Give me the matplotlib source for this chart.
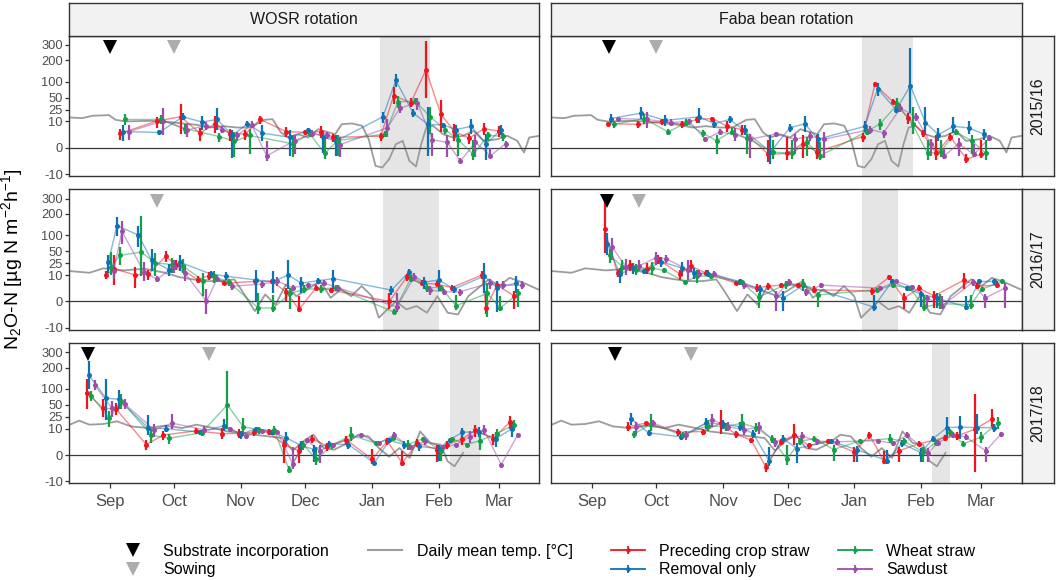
import numpy as np
import matplotlib.pyplot as plt
from matplotlib.lines import Line2D

plt.rcParams['font.family'] = ['Liberation Sans', 'DejaVu Sans']
plt.rcParams['mathtext.fontset'] = 'custom'
plt.rcParams['mathtext.rm'] = 'Liberation Sans'
plt.rcParams['mathtext.it'] = 'Liberation Sans:italic'

# x axis: days since 1 September of each season
month_days = [0, 30, 61, 91, 122, 153, 181]
month_labels = ['Sep', 'Oct', 'Nov', 'Dec', 'Jan', 'Feb', 'Mar']
y_ticks = [-10, 0, 10, 25, 50, 100, 200, 300]

seasons = ['2015/16', '2016/17', '2017/18']
rotations = ['WOSR rotation', 'Faba bean rotation']
treatments = ['Preceding crop straw', 'Removal only', 'Wheat straw', 'Sawdust']
colors = ['#F0141E', '#0C72B4', '#14A049', '#9C4DAA']

# daily mean temperature [°C]
temp_1516_day = [-18.6, -12.8, -8.1, -0.3, 2.8, 7.5, 18.5, 24.8, 34.2, 40.4, 46.7, 53, 59.3, 65.5, 71.8, 75.7,
                 79.6, 82.8, 87.5, 92.2, 96.9, 104.8, 107.9, 112.6, 117.3, 120.4, 123.6, 126.7, 129.9, 133,
                 136.2, 139.3, 142.4, 144.8, 147.2, 150.3, 155, 159.7, 164.4, 169.1, 173.8, 180.1, 184.8,
                 189.5, 192.6, 195, 199.7]
temp_1516 = [14.2, 13.4, 16.3, 17.1, 11.6, 10.0, 10.6, 10.0, 8.2, 7.1, 5.2, 6.1, 5.2, 5.2, 11.6, 12.3,
             2.6, 0.96, 1.9, 0.96, 4.2, 1.9, 7.6, 8.2, 6.4, 0.6, -3.9, -4.8, -1.2, 0.07,
             0.36, -1.7, -4.2, 0.07, 5.2, 6.4, 1.9, 0.96, 1.4, 3.3, 0.36, 0.6, 1.4,
             0.36, -0.13, 0.96, 1.4]
temp_1617_day = [-18.5, -9.4, -3.0, 6.6, 16.2, 25.8, 32.3, 38.6, 45.1, 51.5, 57.9, 61.1, 67.5, 72.3, 77.1,
                 81.9, 86.7, 93.1, 97.9, 102.7, 107.5, 112.3, 117.1, 121.9, 125.1, 129.1, 133.1, 137.9,
                 142.7, 147.5, 152.3, 157.1, 161.9, 166.7, 171.5, 176.3, 181.1, 185.9, 192.3, 199.2]
temp_1617 = [14.2, 12.3, 17.6, 15.0, 17.1, 12.3, 8.2, 6.4, 5.2, 5.2, 6.4, 1.4, -0.8, 0.36, -0.05,
             3.3, 0.18, 1.94, 5.2, 0.07, 1.4, 0.18, 2.6, 0.18, -3.0, -0.5, 0.0, -0.5,
             -0.13, -1.2, 0.18, -1.2, -1.7, 0.18, 1.94, 6.4, 2.6, 7.6, 4.2, 1.4]
temp_1718_day = [-18.5, -14.2, -9.4, -3.0, 3.4, 9.8, 17.8, 25.8, 33.8, 40.3, 48.3, 54.7, 61.1, 67.5, 73.9,
                 80.3, 85.1, 89.9, 94.7, 99.5, 104.3, 109.1, 115.5, 120.3, 125.1, 129.9, 134.7, 139.5,
                 144.3, 149.1, 153.9, 157.1, 160.3, 164.3]
temp_1718 = [14.2, 19.4, 14.2, 15.0, 18.5, 12.3, 10.6, 13.1, 10.6, 14.2, 10.6, 7.6, 6.4, 5.2, 4.2,
             3.3, 0.11, 1.94, 5.2, 0.36, 0.18, 0.96, 5.2, 4.2, 0.36, -0.01, 0.36, -0.04,
             7.6, 1.4, 0.96, -0.28, -1.2, 0.02]

# substrate incorporation / sowing dates, frozen periods (days since 1 Sep)
incorporation = {('WOSR rotation', '2015/16'): 0, ('WOSR rotation', '2016/17'): None,
                 ('WOSR rotation', '2017/18'): -10, ('Faba bean rotation', '2015/16'): 8,
                 ('Faba bean rotation', '2016/17'): 7, ('Faba bean rotation', '2017/18'): 11}
sowing = {'2015/16': 30, '2016/17': 22, '2017/18': 46}
frost = {('WOSR rotation', '2015/16'): (125.5, 149), ('WOSR rotation', '2016/17'): (127, 153),
         ('WOSR rotation', '2017/18'): (158.4, 172), ('Faba bean rotation', '2015/16'): (125.7, 149.4),
         ('Faba bean rotation', '2016/17'): (125.7, 142.2), ('Faba bean rotation', '2017/18'): (158, 166.3)}

# ---- N2O-N fluxes: WOSR 2015/16
w15_pcs_day = [5, 22, 33, 42, 49, 56, 63, 70, 82, 91, 98, 104, 126, 132, 140, 147, 154, 160, 167, 174, 181]
w15_pcs = [2.2, 10.5, 15, 2.3, 8, 2, 2, 12, 3, 2.6, 3, 1, 1.3, 55, 38, 150, 18, 3.3, 0.8, 4.5, 3.2]
w15_pcs_lo = [0.5, 5, 2, 0.3, 2.5, 0.3, 0.5, 8, 1, 1.5, 0.8, 0.2, 0.3, 35, 30, 50, 3, 0.3, 0.1, 1.5, 1]
w15_pcs_hi = [4.5, 15, 35, 5, 16, 4.5, 4, 16, 5.5, 4, 6, 2, 2.5, 80, 48, 330, 45, 7.5, 2, 9, 6]
w15_rmo_day = [6, 23, 34, 43, 50, 57, 64, 71, 84, 92, 99, 105, 127, 133, 141, 148, 155, 161, 168, 175, 182]
w15_rmo = [3, 2.6, 15, 9.5, 12, 1.5, 8, 2.3, 1, 3.5, 1.2, 0.3, 15, 105, 20, 7.5, 7, 4, 6, 0.1, 4]
w15_rmo_lo = [0.3, 1.8, 11, 4, 4, -1, 6, 0.3, -0.5, 2, -0.2, -0.5, 9, 80, 15, -0.5, 5, 1, 2, -1.5, 1.5]
w15_rmo_hi = [7, 3.5, 20, 16, 28, 4, 10, 7, 3.5, 5, 3, 1.5, 22, 130, 27, 30, 9, 7, 12, 2, 7]
w15_wst_day = [7, 24, 35, 51, 58, 65, 85, 93, 100, 106, 128, 134, 142, 149, 156, 162, 169, 176, 183]
w15_wst = [12, 12, 4.5, 1.2, 0.3, 1.5, 0.1, 2, -0.2, 0.4, 2, 40, 42, 15, 4, 0.5, -0.3, 1.5, 1.3]
w15_wst_lo = [7, 8, 2, 0.2, -0.8, -0.3, -0.8, 1, -1.2, -0.5, 1, 28, 35, 2, 2, -0.5, -1.5, 0.3, 0.3]
w15_wst_hi = [18, 17, 8, 2.5, 3, 4.5, 1.5, 3.5, 0.8, 1.5, 3.2, 55, 50, 30, 6.5, 2, 0.5, 3, 2.5]
w15_sdt_day = [9, 25, 36, 45, 52, 59, 66, 73, 86, 94, 101, 107, 129, 135, 143, 150, 157, 163, 170, 177, 184]
w15_sdt = [3, 10.5, 3.8, 6.5, 4, 1.5, 7, -0.5, 0.4, 2, 1.5, 0.05, 5, 28, 38, 0.5, 0.2, -1.8, 0.2, -0.5, 0.1]
w15_sdt_lo = [0.5, 1.5, 1, 4, 2.5, 0.3, 5, -1.8, -0.3, 1, 0.6, -0.8, 1, 20, 25, -0.5, -0.8, -2.5, -0.8, -1, 0]
w15_sdt_hi = [7, 28, 8, 9.5, 6, 3, 10, 0.3, 1.5, 3.5, 2.8, 1, 12, 38, 50, 2.5, 1.5, -1, 1.5, 0, 0.3]

# ---- WOSR 2016/17
w16_pcs_day = [-1.7, 2, 12, 18, 26, 31, 41, 46, 53, 67.5, 75.5, 82, 88, 96, 103, 130, 138, 145, 152, 159, 173, 175, 180, 188]
w16_pcs = [10, 17, 10, 11, 38, 22, 6, 9.5, 4, 5, 5, 0.8, -0.5, 2, 1.2, 0, 8, 4, 3.5, 2, 10, -0.3, 3, 0.2]
w16_pcs_lo = [7, 3, 2, 6, 28, 15, 4, 6, 3, 3.5, 3.5, 0, -1, 1.2, 0.5, -0.5, 5, 2.5, 2.5, 1, 7, -1.5, 1.5, -0.5]
w16_pcs_hi = [14, 40, 20, 16, 50, 30, 9, 13, 5.5, 7, 7, 1.8, 0.2, 3, 2, 0.5, 11, 6, 5, 3, 14, 1, 5, 1]
w16_rmo_day = [-0.6, 3.4, 13.4, 19.5, 27.5, 32.6, 47, 54, 68, 76, 83, 89, 97, 104, 131, 139, 146, 153, 160, 174, 180, 189]
w16_rmo = [27, 140, 100, 30, 16, 27, 11, 9, 6, 5, 10, 4, 5.5, 7, 1.2, 13, 4.5, 6, 1.5, 9, 2, 4]
w16_rmo_lo = [12, 95, 60, 14, 9, 14, 8, 6, 0, 0.5, 1.5, 0.5, 3.5, 1.5, 0.3, 9, 1.5, 1, 0.5, 0.5, -1, 0.5]
w16_rmo_hi = [42, 185, 140, 55, 24, 40, 14, 13, 15, 14, 30, 8, 7.5, 16, 2.5, 17, 8, 15, 2.5, 25, 5, 9]
w16_wst_day = [0.5, 4.7, 14.6, 21, 29, 34, 43.5, 48.6, 55.5, 69, 76, 84, 90.5, 98, 105, 132, 140, 147.5, 154, 161, 175.5, 181.5, 190]
w16_wst = [20, 40, 48, 26, 23, 21, 5.5, 8.7, 4.5, -0.3, -0.3, 0.5, 1.5, 1.5, 2, -1, 7, 2, 2, -0.1, 0.5, -0.3, 0.5]
w16_wst_lo = [10, 22, 9, 9, 12, 12, 0.2, 4, 2.5, -1.5, -1, -0.5, 0.5, 0.5, 1, -1.5, 4.5, 0.8, 1, -0.6, -2.5, -0.8, -0.2]
w16_wst_hi = [48, 62, 190, 45, 35, 32, 12, 14, 7, 0.5, 0.3, 2, 3, 3, 3, -0.5, 10, 3.5, 3, 0.3, 4, 0.2, 1.5]
w16_sdt_day = [1.8, 5.7, 16, 22, 30, 35, 45, 50, 57, 70.7, 78, 85, 92, 99.5, 106, 133.5, 141.5, 149, 155.5, 162.7, 176.7, 183, 191.5]
w16_sdt = [14, 115, 13, 6.5, 20, 12, 0, 7, 2.5, 3.5, 5, 2, 3, 4, 2, -0.2, 8, 1.2, 0.8, 0.8, 4, 3, 3]
w16_sdt_lo = [7, 70, 5, 4.5, 12, 5, -1.5, 4.5, 1.2, 2, 2.5, 1, 2, 2.5, 1, -1, 5, 0.3, 0.3, 0.2, 1.5, 1.5, 1.5]
w16_sdt_hi = [25, 160, 28, 9, 30, 22, 1.5, 10, 4, 5, 8, 3, 4, 6, 3, 0.5, 12, 2.5, 1.5, 1.5, 7, 5, 5]

# ---- WOSR 2017/18
w17_pcs_day = [-10.7, -3, 3, 17, 25, 40, 52, 60, 67, 74, 81, 88, 94, 101, 110, 122, 129, 136, 143, 152, 157, 164, 170, 178, 186]
w17_pcs = [85, 42, 40, 1, 5, 8, 6, 6, 7, 7, 1, 0.1, 3, 0.7, 2.5, -0.1, 2, -0.5, 1.5, 0.2, 1, 3, 8.5, 3, 17]
w17_pcs_lo = [40, 25, 28, 0.2, 2.5, 5.5, 3, 3.5, 4.5, 5, -0.5, -0.5, 1.5, 0.1, 1, -0.6, 1, -1.2, 0.5, -0.3, 0.3, 1, 4, 1, 10]
w17_pcs_hi = [140, 65, 55, 2.5, 8, 11, 11, 10, 10, 10, 2.5, 0.8, 5, 1.5, 4.5, 0.3, 3.5, 0.1, 3, 0.8, 2, 6, 14, 6, 26]
w17_rmo_day = [-9.7, -1.7, 4.2, 18, 26, 42, 53, 61, 68, 75.5, 82, 89, 95, 102, 111, 123, 130, 137, 144, 153, 158, 164, 171.5, 179.5, 187]
w17_rmo = [160, 68, 65, 10.5, 10, 7, 13, 5.5, 10, 7, 3.5, 0.8, 0.2, 1.2, 1, -0.5, 2.3, 1, 0.6, 0.3, 2.5, 7, 7, 3, 10]
w17_rmo_lo = [100, 20, 40, 5, 7, 5, 8, 3, 8, 5, 1, 0.1, -0.3, 0.5, 0.3, -0.8, 1.5, 0.3, 0.1, -0.2, 1.5, 3.5, 4, 0.5, 4]
w17_rmo_hi = [240, 140, 95, 28, 14, 9, 22, 8, 12, 9, 7, 2, 1, 2, 2, -0.2, 3.5, 2, 1.5, 1, 3.5, 11, 12, 7, 18]
w17_wst_day = [-8.6, -0.2, 5.3, 19.4, 27.4, 42.7, 54.7, 62, 69.4, 76.6, 83.5, 90, 96, 103.5, 112, 124, 131.5, 138.5, 145.6, 154, 159, 166, 172, 180, 188]
w17_wst = [75, 23, 60, 5, 3.2, 6.5, 50, 12, 9, 8.5, -2.5, 1, -0.1, 0.8, 5, 1.3, 3.5, 1, 3, 0.1, 3, 1, 2.2, 6, 14]
w17_wst_lo = [60, 12, 40, 1.5, 1.2, 4.5, 10, 5, 6, 5, -4, 0.2, -0.8, 0.3, 2, 0.8, 2.5, 0.2, 2.5, -0.2, 2, 0.5, 0.2, 3.5, 9]
w17_wst_hi = [90, 35, 80, 10, 5.5, 9, 180, 24, 12, 13, -1.2, 2, 0.5, 1.5, 12, 2, 4.5, 2.5, 4, 0.5, 4, 1.5, 6, 10, 20]
w17_sdt_day = [-7, 1, 7, 20.7, 29, 44, 56, 63.5, 70.7, 78, 85, 91.5, 97.6, 104, 117, 125, 132, 139.5, 146.7, 155, 161, 167.5, 174, 182, 189.6]
w17_sdt = [115, 42, 52, 9, 16, 9, 10, 4.3, 8, 7, -0.6, 2.5, 0.1, 1, 5, 1.3, 5, 0.5, 2, 0.5, 1, 4, 9, -0.8, 5]
w17_sdt_lo = [95, 25, 40, 4, 10, 6, 8, 3, 6.5, 5.5, -2, 1.5, -0.5, 0.5, 4, 0.8, 3.5, 0.2, 1, 0.1, 0.5, 1.5, 5, -1, 4]
w17_sdt_hi = [135, 60, 65, 15, 30, 13, 12, 6, 10, 9, 0.5, 3.5, 0.8, 1.5, 6.5, 2, 7, 1, 3, 1, 1.5, 8, 14, -0.5, 6.5]

# ---- Faba bean 2015/16
f15_pcs_day = [7.7, 21.7, 32.7, 41.8, 48.8, 56, 63, 69.8, 82, 90.7, 98, 104.7, 125.8, 131.5, 140, 147, 153.7, 160, 166.5, 174, 180.7]
f15_pcs = [8, 7.5, 10, 7.5, 12, 13, 6, 4, -0.3, -0.2, 0.1, -0.1, 1.2, 90, 40, 14, 2.2, -0.2, 1.2, -1.2, -0.3]
f15_pcs_lo = [6.5, 5, 7, 5, 9, 11, 3, 1.5, -2, -1.5, -1, -1.2, 0.2, 80, 35, 8, 1, -1.5, 0.3, -2.5, -1]
f15_pcs_hi = [9.5, 10, 13, 10, 15, 15, 10, 7, 0.5, 1, 1.5, 1.5, 2.5, 100, 46, 20, 4, 1.5, 2.5, -0.3, 0.5]
f15_rmo_day = [9, 23, 34, 50, 57, 64, 71, 83, 92, 99, 105, 126.8, 132.8, 141.4, 148, 155, 161, 168, 175, 182]
f15_rmo = [13, 20, 11, 15, 8, 12, 3.5, -0.1, 5, 8, 0.6, 6, 75, 25, 85, 9, 1.8, 6, 5, 2]
f15_rmo_lo = [9, 12, 6, 9, 5, 9, 1.5, -3, 3, 3, -0.5, 3, 55, 20, 20, 2, 0.3, 2.5, 2, 0.5]
f15_rmo_hi = [18, 30, 17, 28, 11, 16, 7, 1.5, 8, 16, 2, 10, 95, 32, 280, 30, 5, 15, 10, 4.5]
f15_wst_day = [10.4, 24.5, 35.5, 44, 51.5, 58, 65, 72, 84, 93, 100, 106, 127.8, 134, 142, 149, 156, 162, 169, 176.4, 183]
f15_wst = [7.5, 13, 2.8, 9, 2.2, 0.4, 3, 0.8, -0.1, -0.2, 0.2, -0.5, 3, 8, 35, 7.5, -0.2, -0.1, 2.8, 0.4, -0.2]
f15_wst_lo = [5, 8, 1.5, 6, 1, -0.3, 1.5, -0.3, -1.2, -1.2, -0.5, -1.5, 1.5, 4, 25, 2, -1.5, -0.8, 1.5, -0.3, -1.5]
f15_wst_hi = [10, 18, 4.5, 13, 4, 1.5, 5, 2, 0.5, 0.5, 1, 0.2, 5, 12, 48, 30, 0.5, 0.5, 4.5, 1.5, 0.5]
f15_sdt_day = [12, 25.8, 36.7, 45.4, 52.8, 59.5, 66.6, 73.4, 85.4, 94.3, 101.4, 107.7, 129.3, 135.6, 143.4, 150.5, 157.6, 163.4, 170.5, 177.5, 184.6]
f15_sdt = [13, 12, 9, 10, 0.6, 2.8, 1.8, 0.6, 2, 0.6, 1.3, 0.6, 4, 2.5, 28, 15, 0.1, -0.6, 0.1, -0.3, 0.8]
f15_sdt_lo = [10, 5, 6, 7, 0.2, 1.5, 0.3, -1, 1, -0.3, 0.3, -1, 2, 0.8, 22, 10, -0.5, -1.2, -0.5, -0.8, 0.3]
f15_sdt_hi = [15, 22, 12, 13, 1.2, 4.5, 5, 2, 3, 2, 3, 3, 6, 4, 35, 20, 0.6, 0, 0.8, 0.1, 1.5]

# ---- Faba bean 2016/17
f16_pcs_day = [6, 12, 18, 25.8, 30.9, 41, 46, 53, 67, 76.7, 82, 87.8, 96, 103.4, 130, 138, 145, 152, 159, 173, 179, 188]
f16_pcs = [125, 12, 22, 17, 32, 11, 21, 12, 4, 2, 2.5, 3, 3, 1.3, 1, 8, 0.05, 1.8, 0.2, 6, 2.5, 3]
f16_pcs_lo = [45, 8, 14, 11, 24, 6, 13, 9, 3, 0.8, 1.2, 2, 2, 0.5, 0.3, 6, -0.5, 1, -0.3, 1.5, 1.5, 2]
f16_pcs_hi = [300, 16, 30, 25, 40, 16, 30, 16, 5, 3.5, 4, 4, 4, 2.5, 2, 10, 0.5, 3, 1, 12, 4, 5]
f16_rmo_day = [7.3, 13, 19.4, 24.5, 32, 42, 47.5, 54, 68.7, 78, 89, 98.3, 131, 139.5, 146.5, 153, 160.4, 174, 180, 187]
f16_rmo = [70, 11, 18, 14, 28, 18, 12, 11.5, 5, 1.5, 0.05, 3, -0.2, 5, 1.7, 0.4, 0.05, -0.2, 5, 5]
f16_rmo_lo = [40, 4, 11, 11, 20, 9, 7, 8, 3, 0.2, -0.8, 1, -0.8, 3.5, 1, -0.2, -0.3, -0.6, 3.5, 3]
f16_rmo_hi = [110, 18, 26, 17, 36, 28, 18, 15, 7, 3, 1, 5.5, 0.3, 6.5, 2.5, 1, 0.5, 0.2, 7, 7]
f16_wst_day = [8.4, 14.3, 20.6, 28, 33.6, 43.4, 48.7, 55.5, 69.7, 77.5, 90.4, 98.3, 105, 132.7, 140, 147.7, 154.5, 161.7, 176, 181.4, 190.6]
f16_wst = [40, 20, 16, 18, 15, 4.5, 9, 9, 4.5, 0.1, 3.5, 3.5, 0.3, 1.3, 3, 1.8, -0.2, -0.02, -0.05, 1.5, 5]
f16_wst_lo = [25, 11, 10, 10, 12, 3.5, 4, 7, 3, -0.3, 1.5, 1.5, -0.2, 0.8, 2, 1, -0.8, -0.5, -0.4, 0.8, 3.5]
f16_wst_hi = [55, 30, 24, 28, 18, 5.5, 15, 11, 6, 0.5, 5.5, 6.5, 0.8, 2, 4, 2.5, 0.3, 0.4, 0.3, 2.2, 6.5]
f16_sdt_day = [9.6, 15.8, 21.9, 29.8, 34.7, 44.5, 50, 57, 70.8, 85.6, 91.4, 99.7, 106.7, 134, 141.5, 148.7, 155.8, 162.8, 177, 182.6, 191.8]
f16_sdt = [60, 20, 21, 35, 33, 16, 11.5, 11, 3, 0.2, 4.5, 0.8, 3, 1.8, 5, 2.2, 0.05, -0.1, 4.5, 0.05, 1.8]
f16_sdt_lo = [30, 10, 14, 22, 26, 6, 8, 8, 1.5, -0.8, 2.5, 0.2, 2, 1.2, 4, 1.5, -0.3, -0.5, 2.5, -0.3, -0.3]
f16_sdt_hi = [90, 32, 30, 48, 40, 30, 15, 14, 4.5, 1, 7, 1.5, 4, 2.5, 6, 3, 0.3, 0.2, 7, 0.4, 4]

# ---- Faba bean 2017/18
f17_pcs_day = [16.9, 25, 40, 51.8, 59.9, 67, 74, 81, 87.8, 94, 100.7, 109.6, 122, 129, 135.6, 142.6, 152, 164, 169.8, 178, 186]
f17_pcs = [12, 16, 7, 7.5, 16, 5.5, 2.5, -1.5, 1.8, 5, 0.8, 2, 0.05, 5, -0.2, 0.1, 1.2, 3.5, 4.5, 9.5, 22]
f17_pcs_lo = [8, 14, 4.5, 5, 6, 3.5, 1.5, -3.5, 0.8, 1, 0.3, 1.2, -0.3, 3, -0.6, -0.3, 0.6, 2, 2.5, -3.5, 12]
f17_pcs_hi = [18, 18, 10, 10, 38, 8, 3.5, -0.5, 3, 15, 1.5, 3, 0.5, 7, 0.1, 0.5, 2, 5, 7, 80, 40]
f17_rmo_day = [18.4, 26.4, 41.3, 53, 61.2, 68.7, 75, 82.3, 89, 95.3, 111, 123, 137, 144, 153, 158.4, 165, 171, 178.8, 187]
f17_rmo = [22, 6.5, 4, 16, 15, 12, 6, -0.2, 3, 0.3, 2, 0.2, -0.2, 1.3, 0.02, 3, 11, 11.5, 11, 11]
f17_rmo_lo = [14, 4.5, 2.5, 10, 10, 8, 3.5, -1, 1.5, -0.5, 1.2, -0.3, -0.6, 0.5, -0.3, 2, 3.5, 3, 6, 7]
f17_rmo_hi = [32, 9, 6, 24, 20, 18, 9, 0.5, 5, 1.5, 3, 0.6, 0.2, 2.5, 0.4, 4.5, 25, 26, 30, 15]
f17_wst_day = [19.5, 27.5, 42.2, 54, 62.3, 69.6, 76.4, 83.7, 90.7, 96.7, 103.4, 112.4, 124.8, 138.4, 145, 154, 159.7, 166.3, 172.6, 180.6, 188.6]
f17_wst = [5.5, 15, 5, 13, 12, 16, 11, 3, -0.1, 2, 3, 0.2, 2.2, 3, 2, 0.05, 1.5, 7, 1.2, 3.7, 16]
f17_wst_lo = [3.5, 8, 3.5, 8, 8, 9, 7, 1.5, -0.8, 1, 2, -0.2, 1.5, 1.5, 1, -0.3, 0.8, 4.5, 0.6, 1.5, 10]
f17_wst_hi = [8, 30, 7, 20, 16, 30, 16, 5, 0.8, 3.5, 4.5, 0.8, 3, 6, 3.5, 0.5, 2.5, 10, 2.2, 7, 25]
f17_sdt_day = [20.8, 28.6, 43.6, 55.8, 63.5, 70.8, 77.5, 85, 97.6, 104.6, 114, 132.8, 140, 146.5, 156.3, 160.8, 167.7, 173.6, 183, 190]
f17_sdt = [11.5, 16, 5, 21, 12, 9, 11.5, 1.8, 4.5, 2, 1.8, 2.2, 1.3, 5, 0.02, 1.5, 5, 4, 0.1, 5.5]
f17_sdt_lo = [6, 12, 2.5, 12, 8, 5, 6, 0.5, 2, 1, 0.8, 1.5, 0.6, 3.5, -0.3, 0.8, 3.5, 2.5, -0.3, 4]
f17_sdt_hi = [18, 20, 8, 30, 18, 14, 18, 3.5, 7, 3, 3, 3, 2, 7, 0.4, 2.5, 7, 6, 0.5, 7]

temps = {'2015/16': (temp_1516_day, temp_1516), '2016/17': (temp_1617_day, temp_1617),
         '2017/18': (temp_1718_day, temp_1718)}
g = globals()
prefix = {('WOSR rotation', '2015/16'): 'w15', ('WOSR rotation', '2016/17'): 'w16',
          ('WOSR rotation', '2017/18'): 'w17', ('Faba bean rotation', '2015/16'): 'f15',
          ('Faba bean rotation', '2016/17'): 'f16', ('Faba bean rotation', '2017/18'): 'f17'}
codes = ['pcs', 'rmo', 'wst', 'sdt']


def fwd(y):
    y = np.asarray(y, dtype=float)
    return np.sign(y) * np.abs(y) ** 0.4


def inv(u):
    u = np.asarray(u, dtype=float)
    return np.sign(u) * np.abs(u) ** 2.5


W, H = 1059, 580
fig = plt.figure(figsize=(W / 100, H / 100), dpi=100)


def px_axes(x0, y0, x1, y1):
    return fig.add_axes([x0 / W, 1 - y1 / H, (x1 - x0) / W, (y1 - y0) / H])


col_x = [(69, 539.3), (551, 1021.7)]
row_y = [(35.7, 176.2), (189.3, 329.8), (342.9, 483.4)]
edge = '#333333'

for c, rot in enumerate(rotations):
    for r, season in enumerate(seasons):
        key = (rot, season)
        ax = px_axes(col_x[c][0], row_y[r][0], col_x[c][1], row_y[r][1])
        ax.set_yscale('function', functions=(fwd, inv))
        ax.set_xlim(-18.9, 199.7)
        ax.set_ylim(-11.96, 372)
        f0, f1 = frost[key]
        ax.axvspan(f0, f1, color='#E5E5E5', lw=0, zorder=0)
        td, tv = temps[season]
        ax.plot(td, tv, color='#9C9C9C', lw=1.3, zorder=1)
        ax.axhline(0, color='#3A3A3A', lw=0.9, zorder=1.5)
        p = prefix[key]
        for code, col in zip(codes, colors):
            d = g[f'{p}_{code}_day']
            v = g[f'{p}_{code}']
            lo = g[f'{p}_{code}_lo']
            hi = g[f'{p}_{code}_hi']
            ax.plot(d, v, color=col, lw=1.0, alpha=0.5, zorder=2)
            ax.vlines(d, lo, hi, color=col, lw=1.6, zorder=3)
            ax.plot(d, v, 'o', color=col, ms=3.6, mew=0, zorder=4)
        if incorporation[key] is not None:
            ax.plot([incorporation[key]], [285], 'v', color='black', ms=10, mew=0, zorder=5)
        ax.plot([sowing[season]], [285], 'v', color='#ADADAD', ms=10, mew=0, zorder=5)

        for s in ax.spines.values():
            s.set_color(edge)
            s.set_linewidth(1.0)
        ax.set_yticks(y_ticks)
        ax.set_yticklabels([str(t) for t in y_ticks])
        ax.yaxis.set_minor_locator(plt.NullLocator())
        ax.set_xticks(month_days)
        ax.set_xticklabels(month_labels)
        ax.tick_params(axis='y', length=2.9, width=0.9, color=edge, pad=1.5,
                       labelsize=9.3, labelcolor='#4D4D4D', labelleft=(c == 0))
        if c == 1:
            ax.tick_params(axis='y', length=0)
        ax.tick_params(axis='x', length=3.6, width=0.9, color=edge, pad=4,
                       labelsize=12, labelcolor='#4D4D4D', labelbottom=(r == 2))
        if r < 2:
            ax.tick_params(axis='x', length=0)

        if r == 0:
            st = px_axes(col_x[c][0], 2.7, col_x[c][1], row_y[0][0])
            st.set_facecolor('#F2F2F2')
            st.set_xticks([])
            st.set_yticks([])
            for s in st.spines.values():
                s.set_color(edge)
                s.set_linewidth(1.0)
            st.text(0.5, 0.5, rot, ha='center', va='center', fontsize=11.5, color='#1A1A1A',
                    transform=st.transAxes)
        if c == 1:
            st = px_axes(1021.7, row_y[r][0], 1054, row_y[r][1])
            st.set_facecolor('#F2F2F2')
            st.set_xticks([])
            st.set_yticks([])
            for s in st.spines.values():
                s.set_color(edge)
                s.set_linewidth(1.0)
            st.text(0.5, 0.5, season, ha='center', va='center', rotation=90, fontsize=11.5,
                    color='#1A1A1A', transform=st.transAxes)

fig.text(12 / W, 1 - 259 / H, 'N$_2$O-N [µg N m$^{-2}$h$^{-1}$]', rotation=90,
         ha='center', va='center', fontsize=14)

# legends
leg_top = 1 - 544 / H
leg_kw = dict(loc='upper left', frameon=False, fontsize=11.5, borderpad=0, borderaxespad=0,
              labelspacing=0.2)
ev_handles = [Line2D([], [], marker='v', color='black', ls='none', ms=10, mew=0),
              Line2D([], [], marker='v', color='#ADADAD', ls='none', ms=10, mew=0)]
fig.legend(ev_handles, ['Substrate incorporation', 'Sowing'], bbox_to_anchor=(117 / W, leg_top),
           handlelength=2.0, handletextpad=0.875, **leg_kw)
fig.legend([Line2D([], [], color='#9C9C9C', lw=1.5)], ['Daily mean temp. [°C]'],
           bbox_to_anchor=(368 / W, leg_top), handlelength=2.125, handletextpad=0.94, **leg_kw)


def tr_handle(col):
    return (Line2D([], [], color=col, lw=1.3, marker='o', ms=3.2, mew=0),
            Line2D([], [], color=col, ls='none', marker='|', ms=6, mew=1.3))


fig.legend([tr_handle(colors[0]), tr_handle(colors[1])], [treatments[0], treatments[1]],
           bbox_to_anchor=(611 / W, leg_top), handlelength=2.125, handletextpad=0.875, **leg_kw)
fig.legend([tr_handle(colors[2]), tr_handle(colors[3])], [treatments[2], treatments[3]],
           bbox_to_anchor=(838 / W, leg_top), handlelength=2.125, handletextpad=0.875, **leg_kw)

fig.savefig('out.png', dpi=100)
